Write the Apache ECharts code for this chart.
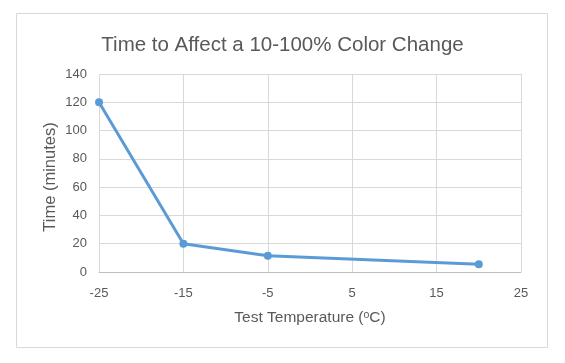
<!DOCTYPE html>
<html><head><meta charset="utf-8">
<script src="https://cdn.jsdelivr.net/npm/echarts@6/dist/echarts.min.js"></script>
<style>html,body{margin:0;padding:0;background:#fff}#c{width:565px;height:363px}</style>
</head><body><div id="c"></div>
<script>
const temperatures = [-25, -15, -5, 20];
const times = [120, 20, 11.5, 5.5];
const xMin = -25, xMax = 25, xStep = 10;
const yMin = 0, yMax = 140, yStep = 20;
const titleText = 'Time to Affect a 10-100% Color Change';
const xName = 'Test Temperature (\u1D52C)';
const yName = 'Time (minutes)';

const FONT = '"Liberation Sans", Arial, sans-serif';
const chart = echarts.init(document.getElementById('c'));
// x axis offset so ticks start at xMin (multiple of interval)
const off = -xMin;
chart.setOption({
  animation: false,
  backgroundColor: '#fff',
  graphic: [{type:'rect', shape:{x:16.5,y:13.5,width:531,height:334}, style:{fill:'none',stroke:'#d9d9d9',lineWidth:1}}],
  title: {text: titleText, left: 'center', top: 30, textStyle:{fontFamily:FONT, fontSize:20.5, fontWeight:'normal', color:'#595959'}},
  grid: {left: 99, right: 44, top: 74, bottom: 91, containLabel:false},
  xAxis: {
    type:'value', min: xMin+off, max: xMax+off, interval: xStep,
    name: xName, nameLocation:'middle', nameGap: 38,
    nameTextStyle:{fontFamily:FONT, fontSize:15.5, color:'#595959'},
    axisLine:{show:true, lineStyle:{color:'#bfbfbf'}},
    axisTick:{show:false},
    axisLabel:{formatter: v => String(v - off), fontFamily:FONT, fontSize:13, color:'#595959', margin:15},
    splitLine:{show:true, lineStyle:{color:'#d9d9d9'}}
  },
  yAxis: {
    type:'value', min:yMin, max:yMax, interval:yStep,
    name: yName, nameLocation:'middle', nameGap: 40,
    nameTextStyle:{fontFamily:FONT, fontSize:16.5, color:'#595959', padding:[0,0,0,-8]},
    nameMoveOverlap: false,
    axisLine:{show:false}, axisTick:{show:false},
    axisLabel:{fontFamily:FONT, fontSize:13, color:'#595959', margin:12},
    splitLine:{show:true, lineStyle:{color:'#d9d9d9'}}
  },
  series: [{
    type:'line', data: temperatures.map((t,i)=>[t+off, times[i]]),
    lineStyle:{color:'#5b9bd5', width:3},
    itemStyle:{color:'#5b9bd5'},
    symbol:'circle', symbolSize:8
  }]
});
</script></body></html>
